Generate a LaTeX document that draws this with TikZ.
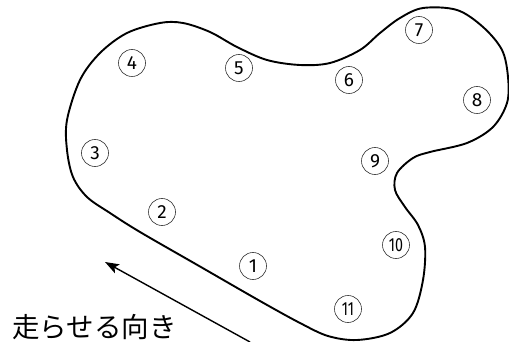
\documentclass[tikz,border=0pt]{standalone}
\usepackage{fontspec}
\setmainfont{Fira Sans}
\newfontfamily\jpfont{Noto Sans CJK JP}
\usetikzlibrary{arrows.meta}
\tikzset{
  numc/.style={circle,draw=black!80,line width=0.6pt,minimum size=27pt,inner sep=0pt,font=\fontsize{19}{19}\selectfont},
  course/.style={line width=1.9pt},
  dirarrow/.style={line width=1.4pt,-{Stealth[length=14pt,width=10pt,inset=3pt]}}
}
\begin{document}
\begin{tikzpicture}[x=1pt,y=-1pt]
\useasboundingbox (0,0) rectangle (509,342);
\draw[course] plot[smooth cycle,tension=0.55] coordinates {
(260,301) (200,266.5) (140,232) (110,213) (87,197) (73,177) (67,150) (67,120) (80,80) (100,53) (127,33) (160,23) (183,23) (210,32) (237,47) (267,60) (300,65) (330,63) (360,50) (380,33) (400,18) (423,8) (457,10) (483,27) (502,50) (508,77) (507,103) (493,127) (467,143) (430,152) (413,158) (397,173) (395,190) (405,207) (418,225) (425,247) (423,280) (413,313) (390,333) (357,340) (328,336) (300,323)};
\node[numc] (n1) at (253,266) {1};
\node[numc] (n2) at (162,212) {2};
\node[numc] (n3) at (95,153) {3};
\node[numc] (n4) at (132,63) {4};
\node[numc] (n5) at (239,68) {5};
\node[numc] (n6) at (349,80) {6};
\node[numc] (n7) at (419,30) {7};
\node[numc] (n8) at (477,100) {8};
\node[numc] (n9) at (375,161) {9};
\node[numc] (n10) at (396,245) {\scalebox{0.75}[1]{10}};
\node[numc] (n11) at (348,309) {\scalebox{0.75}[1]{11}};
\coordinate (atail) at (250,342);
\coordinate (ahead) at (105,262);
\draw[dirarrow] (atail) -- (ahead);
\node[font=\jpfont\fontsize{27.5}{27.5}\selectfont,inner sep=0pt,anchor=west] (lbl) at (12,327) {走らせる向き};
\end{tikzpicture}
\end{document}
